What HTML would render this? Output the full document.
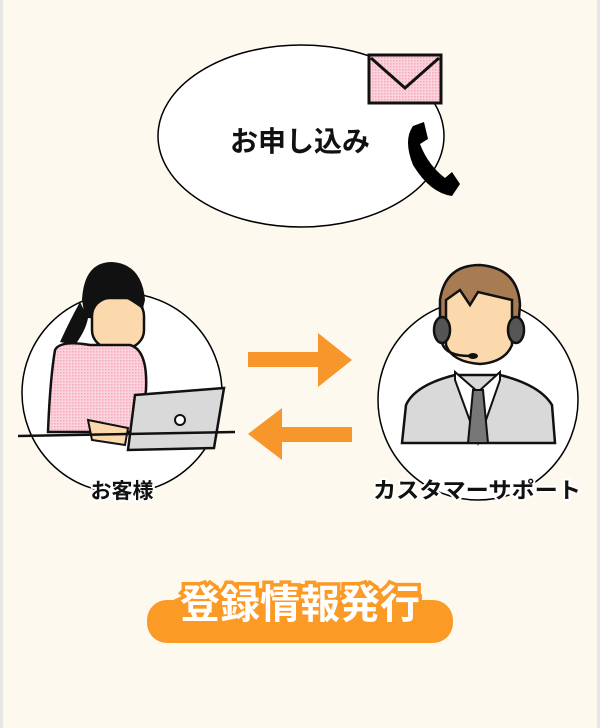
<!DOCTYPE html>
<html><head><meta charset="utf-8"><style>
body{margin:0;width:600px;height:728px;overflow:hidden;background:#fdf9ef;}
svg{display:block}
text{font-family:"Liberation Sans","Noto Sans CJK JP",sans-serif;font-weight:bold}
</style></head><body>
<svg width="600" height="728" viewBox="0 0 600 728">
<defs>
<pattern id="pk" width="3" height="3" patternUnits="userSpaceOnUse"><rect width="3" height="3" fill="#fbd3dc"/><rect width="1.5" height="1.5" fill="#f7a9bb"/></pattern>
</defs>
<rect x="0" y="0" width="3" height="728" fill="#e6e6e6"/>
<rect x="597" y="0" width="3" height="728" fill="#e6e6e6"/>
<ellipse cx="301" cy="136" rx="143" ry="91" fill="#fff" stroke="#000" stroke-width="1.5"/>
<text x="300" y="151" font-size="28" text-anchor="middle" fill="#111">お申し込み</text>
<rect x="369" y="55" width="72" height="48" fill="url(#pk)" stroke="#111" stroke-width="3"/>
<polyline points="371,58 405,88 439,58" fill="none" stroke="#111" stroke-width="3"/>
<path d="M413,126 L424,122 L428,139 L420,144 Q428,165 445,178 L452,172 L460,184 L452,196 Q430,193 413,165 Q403,140 413,126Z" fill="#000"/>
<circle cx="122" cy="393" r="100" fill="#fff" stroke="#000" stroke-width="1.5"/>
<path d="M82,300 Q84,262 112,262 Q142,264 145,300 L140,320 L85,318Z" fill="#111"/>
<path d="M80,302 Q70,320 60,342 L75,345 Q86,330 88,318Z" fill="#111"/>
<rect x="92" y="298" width="52" height="50" rx="18" fill="#fcd9ad" stroke="#111" stroke-width="2.5"/>
<path d="M92,300 Q105,280 140,290 L144,310 Q130,300 118,294 Q100,300 92,310Z" fill="#111"/>
<path d="M55,350 Q60,340 90,345 L130,345 Q148,350 146,390 L140,432 L48,432 Q50,380 55,350Z" fill="url(#pk)" stroke="#111" stroke-width="2.5"/>
<path d="M135,395 L224,388 L214,448 L128,450Z" fill="#d9d9d9" stroke="#111" stroke-width="2.5"/>
<circle cx="180" cy="420" r="5" fill="#fff" stroke="#111" stroke-width="2"/>
<path d="M88,420 L128,428 L125,445 L92,440Z" fill="#fcd9ad" stroke="#111" stroke-width="2"/>
<line x1="18" y1="436" x2="235" y2="432" stroke="#111" stroke-width="2.5"/>
<text x="122" y="498" font-size="21" text-anchor="middle" fill="#111" stroke="#fff" stroke-width="4" paint-order="stroke">お客様</text>
<circle cx="478" cy="400" r="100" fill="#fff" stroke="#000" stroke-width="1.5"/>
<path d="M440,300 Q445,265 480,265 Q518,268 520,305 L518,330 L440,330Z" fill="#a87c52" stroke="#111" stroke-width="2.5"/>
<path d="M446,300 L460,290 L470,305 L478,292 L512,300 L512,345 Q505,362 480,364 Q452,362 446,345Z" fill="#fcd9ad" stroke="#111" stroke-width="2.5"/>
<ellipse cx="442" cy="330" rx="8" ry="13" fill="#555" stroke="#111" stroke-width="2.5"/>
<ellipse cx="516" cy="330" rx="8" ry="13" fill="#555" stroke="#111" stroke-width="2.5"/>
<path d="M442,343 Q446,356 470,356" fill="none" stroke="#111" stroke-width="2.5"/>
<ellipse cx="473" cy="356" rx="5" ry="3" fill="#111"/>
<path d="M402,443 L406,405 Q415,385 455,375 L500,375 Q540,385 552,405 L555,443Z" fill="#d9d9d9" stroke="#111" stroke-width="2.5"/>
<path d="M455,372 L478,392 L500,372 L500,380 L478,443 L455,380Z" fill="#fff" stroke="#111" stroke-width="2"/>
<path d="M473,390 L483,390 L488,443 L468,443Z" fill="#777" stroke="#111" stroke-width="2"/>
<text x="477" y="498" font-size="22" text-anchor="middle" fill="#111" stroke="#fff" stroke-width="4" paint-order="stroke" font-weight="normal" textLength="208" lengthAdjust="spacingAndGlyphs">カスタマーサポート</text>
<path d="M248,352 L318,352 L318,333 L352,360 L318,387 L318,367 L248,367Z" fill="#f7962b"/>
<path d="M352,427 L282,427 L282,408 L248,434 L282,460 L282,442 L352,442Z" fill="#f7962b"/>
<rect x="147" y="600" width="306" height="43" rx="20" fill="#fc9a26"/>
<text x="300" y="618" font-size="40" text-anchor="middle" fill="#fff" stroke="#fc9a26" stroke-width="7" paint-order="stroke">登録情報発行</text>
</svg>
</body></html>
